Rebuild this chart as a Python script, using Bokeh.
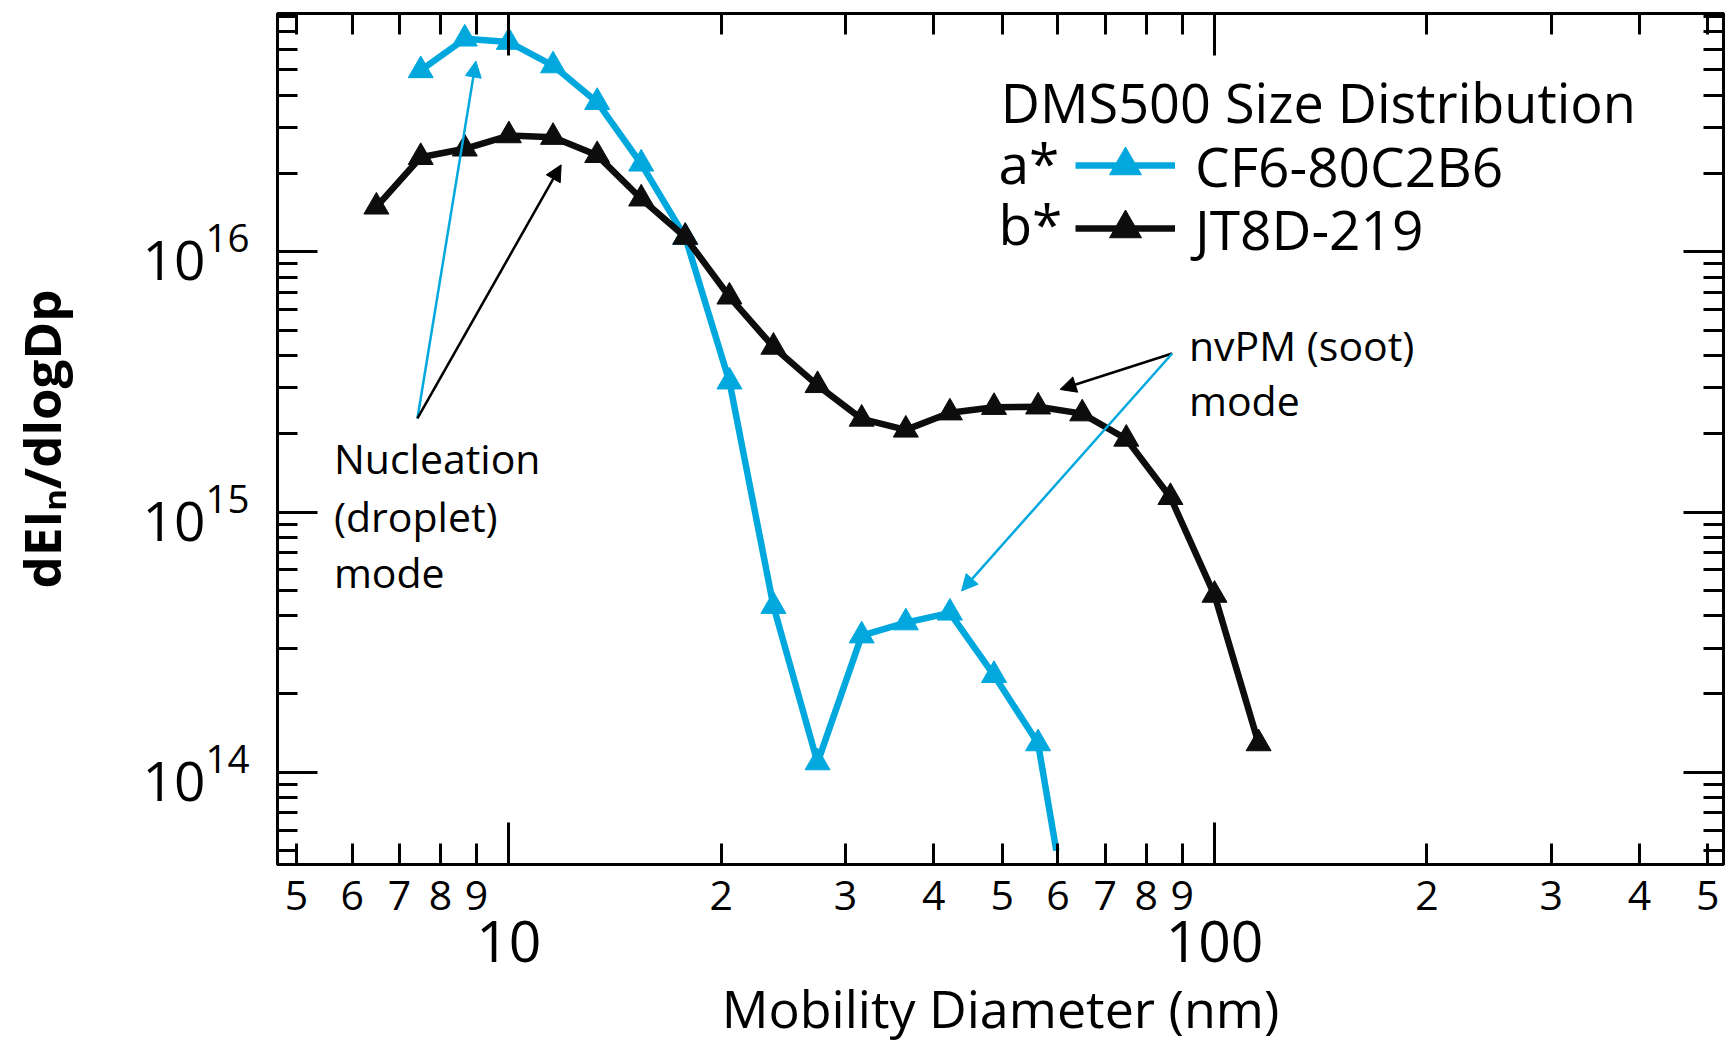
import math
from bokeh.plotting import figure
from bokeh.models import (Range1d, LogAxis, FixedTicker, Label, Arrow, NormalHead,
                          Legend, LegendItem)
from bokeh.embed import file_html
from bokeh.resources import INLINE

# ---------------- data ----------------
diam_cf6 = [7.50, 8.66, 10.0, 11.55, 13.34, 15.40, 17.78, 20.54, 23.71, 27.38,
            31.62, 36.52, 42.17, 48.70, 56.23, 64.94]
dn_cf6 = [4.98e16, 6.59e16, 6.40e16, 5.20e16, 3.76e16, 2.18e16, 1.14e16,
          3.17e15, 4.35e14, 1.09e14, 3.35e14, 3.76e14, 4.10e14, 2.36e14,
          1.29e14, 1.3e13]

diam_jt8d = [6.49, 7.50, 8.66, 10.0, 11.55, 13.34, 15.40, 17.78, 20.54, 23.71,
             27.38, 31.62, 36.52, 42.17, 48.70, 56.23, 64.94, 74.99, 86.60,
             100.0, 115.48]
dn_jt8d = [1.49e16, 2.31e16, 2.49e16, 2.80e16, 2.76e16, 2.35e16, 1.60e16,
           1.14e16, 6.72e15, 4.31e15, 3.07e15, 2.28e15, 2.07e15, 2.41e15,
           2.53e15, 2.54e15, 2.39e15, 1.91e15, 1.14e15, 4.80e14, 1.29e14]

series_names = ["CF6-80C2B6", "JT8D-219"]
series_tags = ["a*", "b*"]

x_digit_ticks = [5, 6, 7, 8, 9, 20, 30, 40, 50, 60, 70, 80, 90, 200, 300, 400, 500]
x_digit_labels = ["5", "6", "7", "8", "9", "2", "3", "4", "5", "6", "7", "8", "9",
                  "2", "3", "4", "5"]
x_decade_ticks = [10, 100]
x_decade_labels = ["10", "100"]
y_decade_ticks = [1e14, 1e15, 1e16]
y_minor_ticks = [m * 10.0 ** e for e in (13, 14, 15, 16) for m in range(2, 10)
                 if 4.5e13 < m * 10.0 ** e < 8.2e16]

title_text = "DMS500 Size Distribution"
x_title = "Mobility Diameter (nm)"
y_title = "dEI\u2099/dlogDp"

# ---------------- layout constants ----------------
XMIN, XMAX = 4.70, 526.4
YMIN, YMAX = 4.423e13, 8.243e16
Y_FLOOR = 5e13          # bottom of original plot area (axes are offset)
FRAME_H = 851

BLUE = "#00A8DE"
BLACK = "#0d0d0d"
FONT = "Open Sans"

W, H = 1725, 1045


def clip_floor(xs, ys, floor):
    ox, oy = [xs[0]], [ys[0]]
    for i in range(1, len(xs)):
        if ys[i] >= floor:
            ox.append(xs[i]); oy.append(ys[i])
        else:
            lx0, lx1 = math.log10(xs[i - 1]), math.log10(xs[i])
            ly0, ly1 = math.log10(ys[i - 1]), math.log10(ys[i])
            t = (math.log10(floor) - ly0) / (ly1 - ly0)
            ox.append(10 ** (lx0 + t * (lx1 - lx0))); oy.append(floor)
            break
    return ox, oy


p = figure(width=W, height=H, x_axis_type="log", y_axis_type="log",
           x_range=Range1d(XMIN, XMAX), y_range=Range1d(YMIN, YMAX),
           output_backend="svg", toolbar_location=None,
           min_border_left=277, min_border_right=2, min_border_top=13,
           min_border_bottom=H - 13 - FRAME_H)
p.xgrid.visible = False
p.ygrid.visible = False
p.outline_line_color = "black"
p.outline_line_width = 3
p.background_fill_color = "white"
p.border_fill_color = "white"


def style_axis(ax, major_in, minor_in):
    ax.axis_line_width = 3
    ax.axis_line_color = "black"
    ax.major_tick_line_width = 3
    ax.minor_tick_line_width = 3
    ax.major_tick_line_color = "black"
    ax.minor_tick_line_color = "black"
    ax.major_tick_in = major_in
    ax.major_tick_out = 0
    ax.minor_tick_in = minor_in
    ax.minor_tick_out = 0


# bottom axis: digit labels on the short ticks, decades = long ticks
xa = p.xaxis[0]
xa.ticker = FixedTicker(ticks=x_digit_ticks, minor_ticks=x_decade_ticks)
xa.major_label_overrides = {t: s for t, s in zip(x_digit_ticks, x_digit_labels)}
style_axis(xa, 21, 42)
xa.major_label_text_font = FONT
xa.major_label_text_font_size = "41px"
xa.major_label_text_color = "black"
xa.major_label_standoff = 16

# second row under it: decade numbers and the axis title
xa2 = LogAxis(ticker=FixedTicker(ticks=x_decade_ticks, minor_ticks=[]))
xa2.major_label_overrides = {t: s for t, s in zip(x_decade_ticks, x_decade_labels)}
xa2.axis_line_color = None
xa2.major_tick_line_color = None
xa2.minor_tick_line_color = None
xa2.major_tick_in = 0
xa2.major_tick_out = 0
xa2.minor_tick_in = 0
xa2.minor_tick_out = 0
xa2.major_label_standoff = 8
xa2.major_label_text_font = FONT
xa2.major_label_text_font_size = "57px"
xa2.major_label_text_color = "black"
xa2.axis_label = x_title
xa2.axis_label_text_font = FONT
xa2.axis_label_text_font_style = "normal"
xa2.axis_label_text_font_size = "52px"
xa2.axis_label_text_color = "black"
xa2.axis_label_standoff = 7
p.add_layout(xa2, "below")

# left axis
ya = p.yaxis[0]
ya.ticker = FixedTicker(ticks=y_decade_ticks, minor_ticks=y_minor_ticks)
style_axis(ya, 40, 20)
ya.major_label_text_font = FONT
ya.major_label_text_font_size = "55px"
ya.major_label_text_color = "black"
ya.major_label_standoff = 28
ya.axis_label = y_title
ya.axis_label_text_font = FONT
ya.axis_label_text_font_style = "bold"
ya.axis_label_text_font_size = "51px"
ya.axis_label_text_color = "black"
ya.axis_label_standoff = 64

# mirrored top / right axes (ticks only, labels not painted)
top = LogAxis(ticker=FixedTicker(ticks=x_digit_ticks, minor_ticks=x_decade_ticks))
style_axis(top, 21, 42)
top.major_label_text_font_size = "2px"
top.major_label_text_color = None
top.major_label_standoff = 0
p.add_layout(top, "above")

right = LogAxis(ticker=FixedTicker(ticks=y_decade_ticks, minor_ticks=y_minor_ticks))
style_axis(right, 40, 20)
right.major_label_text_font_size = "2px"
right.major_label_text_color = None
right.major_label_standoff = 0
p.add_layout(right, "right")

# ---------------- series ----------------
renderers = []
for xs, ys, col in ((diam_cf6, dn_cf6, BLUE), (diam_jt8d, dn_jt8d, BLACK)):
    lx, ly = clip_floor(xs, ys, Y_FLOOR)
    lr = p.line(lx, ly, line_color=col, line_width=6.5, line_join="round")
    mx = [x for x, y in zip(xs, ys) if y >= Y_FLOOR]
    my = [y for y in ys if y >= Y_FLOOR]
    sr = p.scatter(mx, my, marker="triangle", size=25, fill_color=col,
                   line_color=col)
    renderers.append((lr, sr))

# ---------------- legend (one box per row, placed in frame pixels) ----------------
for name, rs, vy in zip(series_names, renderers, (659, 596)):
    lg = Legend(items=[LegendItem(label=name, renderers=list(rs))],
                location=(798, vy), glyph_width=100, glyph_height=80,
                label_height=60, label_width=20, spacing=0, padding=0,
                margin=0, label_standoff=20, label_text_font=FONT,
                label_text_font_size="55px", label_text_color="black",
                border_line_color=None, background_fill_alpha=0)
    p.add_layout(lg)

p.add_layout(Label(x=49.8, y=3.77e16, text=title_text, text_font=FONT,
                   text_font_size="54px", text_color="black",
                   text_baseline="middle"))
for tag, yy in zip(series_tags, (2.215e16, 1.282e16)):
    p.add_layout(Label(x=49.4, y=yy, text=tag, text_font=FONT,
                       text_font_size="55px", text_color="black",
                       text_baseline="middle"))

# ---------------- annotations ----------------
for txt, yy in zip(["Nucleation", "(droplet)", "mode"], [1.607e15, 9.66e14, 5.86e14]):
    p.add_layout(Label(x=5.65, y=yy, text=txt, text_font=FONT,
                       text_font_size="41px", text_color="black",
                       text_baseline="middle"))
for txt, yy in zip(["nvPM (soot)", "mode"], [4.38e15, 2.69e15]):
    p.add_layout(Label(x=92.0, y=yy, text=txt, text_font=FONT,
                       text_font_size="41px", text_color="black",
                       text_baseline="middle"))

arrows = [
    ((7.42, 2.29e15), (8.98, 5.41e16), BLUE),
    ((7.42, 2.29e15), (11.86, 2.16e16), "black"),
    ((87.1, 4.07e15), (60.4, 2.96e15), "black"),
    ((87.1, 4.07e15), (43.8, 4.98e14), BLUE),
]
for (x0, y0), (x1, y1), col in arrows:
    p.add_layout(Arrow(x_start=x0, y_start=y0, x_end=x1, y_end=y1,
                       line_color=col, line_width=2.5,
                       end=NormalHead(size=16, fill_color=col, line_color=col,
                                      line_width=1)))

open("out.html", "w").write(file_html(p, INLINE))
